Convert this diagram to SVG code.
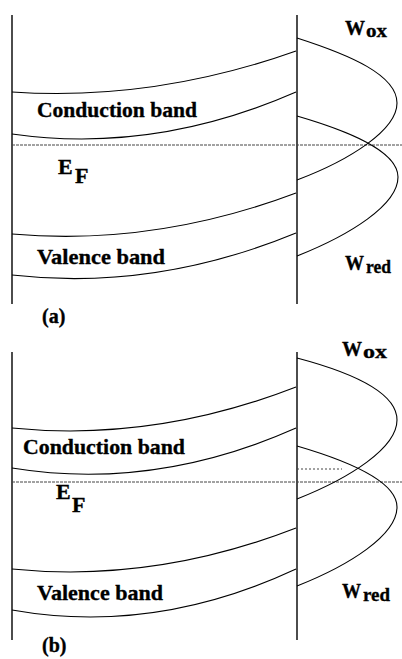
<svg xmlns="http://www.w3.org/2000/svg" width="402" height="659" viewBox="0 0 402 659">
<style>
.ax{stroke:#000;stroke-width:1.4;fill:none}
.cv{stroke:#000;stroke-width:1.1;fill:none}
.dl{stroke:#444;stroke-width:1;stroke-dasharray:3 1;fill:none}
.ds{stroke:#444;stroke-width:1;stroke-dasharray:2 2;fill:none}
text{font-family:"Liberation Serif","Times New Roman",serif;font-weight:bold;fill:#000;stroke:#000;stroke-width:0.35}
.lb{font-size:22px}
.ef{font-size:22px}
.w{font-size:22px}
.sb{font-size:19px}
.cap{font-size:20px}
</style>
<rect width="402" height="659" fill="#fff"/>
<g id="panel-a">
  <g id="a-electrode">
    <line class="ax" x1="12" y1="15" x2="12" y2="304"/>
    <line class="ax" x1="297" y1="15" x2="297" y2="304"/>
  </g>
  <g id="a-conduction-band">
    <path class="cv" d="M12,92 Q154,101.5 296,51"/>
    <path class="cv" d="M12,134 Q154,154.2 296,92"/>
    <text class="lb" x="37" y="117" textLength="160" lengthAdjust="spacingAndGlyphs">Conduction band</text>
  </g>
  <g id="a-valence-band">
    <path class="cv" d="M12,234 Q154,246.5 296,193"/>
    <path class="cv" d="M12,275 Q154,291.4 296,233"/>
    <text class="lb" x="37" y="264" textLength="128" lengthAdjust="spacingAndGlyphs">Valence band</text>
  </g>
  <g id="a-fermi">
    <line class="dl" x1="12" y1="145" x2="402" y2="145"/>
    <text class="ef" x="58" y="174">E</text>
    <text class="ef" x="75" y="183">F</text>
  </g>
  <g id="a-wox">
    <path class="cv" d="M297,38 C350,55 397,75 397,103 C397,130 350,160 297,180"/>
    <text class="w" x="345" y="35" textLength="20" lengthAdjust="spacingAndGlyphs">W</text>
    <text class="sb" x="366" y="37" textLength="21" lengthAdjust="spacingAndGlyphs">ox</text>
  </g>
  <g id="a-wred">
    <path class="cv" d="M297,116 C345,130 398,150 398,177 C398,205 350,235 297,256"/>
    <text class="w" x="345" y="270" textLength="19" lengthAdjust="spacingAndGlyphs">W</text>
    <text class="sb" x="366" y="273" textLength="25" lengthAdjust="spacingAndGlyphs">red</text>
  </g>
  <text id="a-caption" class="cap" x="42" y="323">(a)</text>
</g>
<g id="panel-b">
  <g id="b-electrode">
    <line class="ax" x1="12" y1="352" x2="12" y2="640"/>
    <line class="ax" x1="297" y1="352" x2="297" y2="640"/>
  </g>
  <g id="b-conduction-band">
    <path class="cv" d="M12,428 Q154,442.3 296,387"/>
    <path class="cv" d="M12,468 Q154,491.2 296,428"/>
    <text class="lb" x="23" y="454" textLength="162" lengthAdjust="spacingAndGlyphs">Conduction band</text>
  </g>
  <g id="b-valence-band">
    <path class="cv" d="M12,569 Q154,583.3 296,528"/>
    <path class="cv" d="M12,610 Q154,635.3 296,569"/>
    <text class="lb" x="37" y="600" textLength="126" lengthAdjust="spacingAndGlyphs">Valence band</text>
  </g>
  <g id="b-fermi">
    <line class="dl" x1="12" y1="482" x2="402" y2="482"/>
    <line class="ds" x1="297" y1="469" x2="342" y2="469"/>
    <text class="ef" x="56" y="499">E</text>
    <text class="ef" x="72" y="512">F</text>
  </g>
  <g id="b-wox">
    <path class="cv" d="M297,358 C350,372 397,392 397,420 C397,448 350,478 297,499"/>
    <text class="w" x="342" y="356" textLength="20" lengthAdjust="spacingAndGlyphs">W</text>
    <text class="sb" x="363" y="358" textLength="24" lengthAdjust="spacingAndGlyphs">ox</text>
  </g>
  <g id="b-wred">
    <path class="cv" d="M297,446 C345,460 397,480 397,507 C397,535 350,565 297,586"/>
    <text class="w" x="342" y="598" textLength="19" lengthAdjust="spacingAndGlyphs">W</text>
    <text class="sb" x="363" y="601" textLength="27" lengthAdjust="spacingAndGlyphs">red</text>
  </g>
  <text id="b-caption" class="cap" x="42" y="652">(b)</text>
</g>
</svg>
